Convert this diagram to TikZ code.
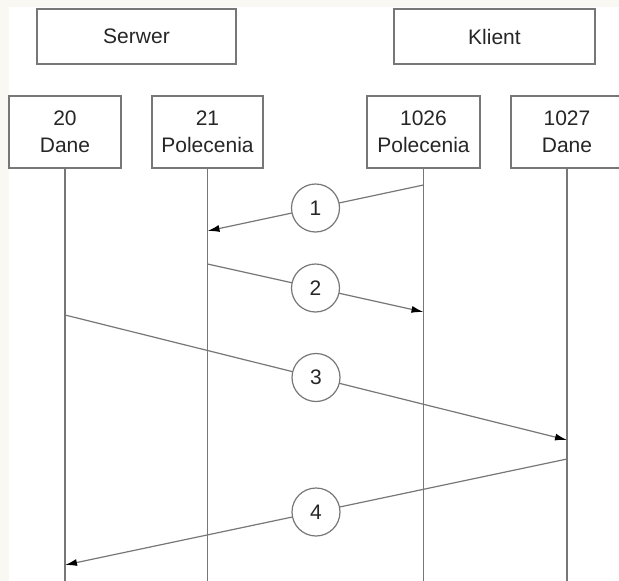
\documentclass[tikz,border=0pt]{standalone}
\usepackage{fontspec}
\setmainfont{Liberation Sans}
\usetikzlibrary{arrows.meta}
\definecolor{paper}{HTML}{FAF8F2}
\definecolor{linegray}{HTML}{777777}

\begin{document}
\begin{tikzpicture}[x=1pt,y=-1pt,
  box/.style={draw=linegray, line width=1.2pt, minimum height=55pt, inner sep=0pt,
    align=center, text=black!85, font=\fontsize{21}{27}\selectfont},
  port/.style={box, minimum height=72pt},
  life/.style={draw=linegray, line width=1.2pt},
  msg/.style={draw=linegray, line width=1.2pt, -{Latex[length=12pt,width=7pt,color=black]}},
  num/.style={circle, draw=linegray, fill=white, line width=1.2pt, minimum size=48pt,
    inner sep=0pt, text=black!85, font=\fontsize{21}{27}\selectfont}]

% Paper and frame
\clip (0,0) rectangle (619,581);
\fill[paper] (0,0) rectangle (619,581);
\fill[white] (9,7) rectangle (619,581);

% Hosts
\node[box, minimum width=199pt] (serwer) at (136.5,36.5) {Serwer};
\node[box, minimum width=201pt] (klient) at (494.5,36.5) {Klient};

% Ports
\node[port, minimum width=112pt] (p20) at (65,132) {20\\Dane};
\node[port, minimum width=111pt] (p21) at (207.5,132) {21\\Polecenia};
\node[port, minimum width=113pt] (p1026) at (423.5,132) {1026\\Polecenia};
\node[port, minimum width=112pt] (p1027) at (567,132) {1027\\Dane};

% Lifelines
\foreach \p in {p20,p21,p1026,p1027} {
  \coordinate (end-\p) at (\p.south |- 0,590);
  \draw[life] (\p.south) -- (end-\p);
}

% Message ends on the lifelines
\coordinate (a1) at (p1026.south |- 0,185);
\coordinate (b1) at (p21.south |- 0,231);
\coordinate (a2) at (p21.south |- 0,264);
\coordinate (b2) at (p1026.south |- 0,312);
\coordinate (a3) at (p20.south |- 0,315);
\coordinate (b3) at (p1027.south |- 0,440);
\coordinate (a4) at (p1027.south |- 0,459);
\coordinate (b4) at (p20.south |- 0,565);

% Messages
\draw[msg] (a1) -- node[num] (n1) {1} (b1);
\draw[msg] (a2) -- node[num] (n2) {2} (b2);
\draw[msg] (a3) -- node[num] (n3) {3} (b3);
\draw[msg] (a4) -- node[num] (n4) {4} (b4);

\end{tikzpicture}
\end{document}
